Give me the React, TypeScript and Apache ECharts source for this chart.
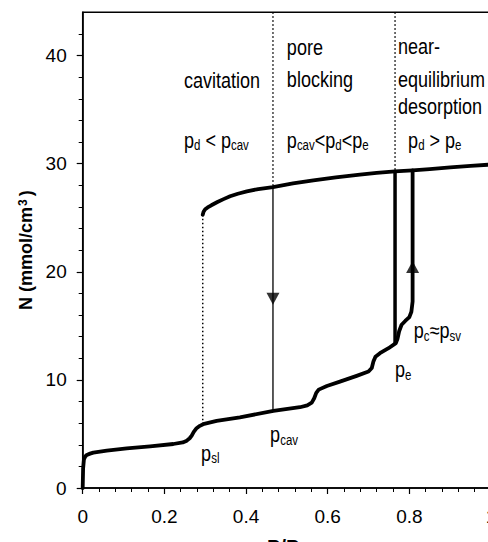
import React, { useEffect, useRef } from "react";
import * as echarts from "echarts";

// Adsorption branch (lower curve, then the condensation step at p_c ≈ p_sv)
const adsorptionBranch: [number, number][] = [
  [0, 0], [0.001, 1.8], [0.003, 2.65], [0.006, 2.9], [0.01, 3.06], [0.018, 3.18],
  [0.026, 3.27], [0.059, 3.46], [0.108, 3.67], [0.165, 3.85], [0.222, 4.07],
  [0.245, 4.22], [0.255, 4.38], [0.262, 4.6], [0.267, 4.85], [0.272, 5.2],
  [0.278, 5.5], [0.287, 5.75], [0.295, 5.9], [0.328, 6.2], [0.385, 6.54],
  [0.467, 7.13], [0.532, 7.47], [0.55, 7.65], [0.561, 7.9], [0.567, 8.3],
  [0.572, 8.8], [0.578, 9.1], [0.598, 9.44], [0.63, 9.84], [0.671, 10.37],
  [0.7, 10.77], [0.708, 11.1], [0.712, 11.7], [0.717, 12.15], [0.728, 12.47],
  [0.749, 12.93], [0.767, 13.4], [0.771, 13.8], [0.775, 14.5], [0.781, 15.1],
  [0.79, 15.45], [0.8, 15.8], [0.805, 16.3], [0.808, 17.25], [0.808, 29.38],
];

// Upper (filled-pore) branch
const upperBranch: [number, number][] = [
  [0.294, 25.28], [0.296, 25.55], [0.3, 25.78], [0.306, 25.95], [0.315, 26.15],
  [0.33, 26.45], [0.345, 26.72], [0.361, 26.98], [0.38, 27.22], [0.402, 27.44],
  [0.43, 27.65], [0.466, 27.84], [0.515, 28.17], [0.565, 28.46], [0.62, 28.73],
  [0.679, 28.98], [0.72, 29.14], [0.765, 29.29], [0.808, 29.38], [0.85, 29.5],
  [0.9, 29.65], [0.95, 29.79], [1.0, 29.92],
];

const equilibriumDrop: [number, number][] = [[0.765, 29.29], [0.765, 13.4]];
const poreBlockingDrop: [number, number][] = [[0.466, 27.84], [0.466, 7.13]];
const cavitationGuide: [number, number][] = [[0.294, 25.28], [0.294, 5.9]];
const blockingBoundary: [number, number][] = [[0.466, 44], [0.466, 27.84]];
const equilibriumBoundary: [number, number][] = [[0.765, 44], [0.765, 29.29]];

const downArrow: [number, number][] = [[0.466, 17.5]];
const upArrow: [number, number][] = [[0.808, 20.45]];

const xTickLabels = [0, 0.2, 0.4, 0.6, 0.8, 1];
const yMajorTicks = [0, 10, 20, 30, 40];
const yMinorTicks = [2, 4, 6, 8, 12, 14, 16, 18, 22, 24, 26, 28, 32, 34, 36, 38, 42];

// Annotation texts and their anchor (left edge, baseline) in data units
const annotationTexts = [
  "{p|cavitation}",
  "{p|pore}",
  "{p|blocking}",
  "{p|near-}",
  "{p|equilibrium}",
  "{p|desorption}",
  "{p|p}{s|d}{p| < p}{s|cav}",
  "{p|p}{s|cav}{p|<p}{s|d}{p|<p}{s|e}",
  "{p|p}{s|d}{p| > p}{s|e}",
  "{p|p}{s|sl}",
  "{p|p}{s|cav}",
  "{p|p}{s|e}",
  "{p|p}{s|c}{p|≈p}{s|sv}",
];
const annotationAnchors: [number, number][] = [
  [0.248, 37.0],
  [0.5, 40.0],
  [0.5, 37.1],
  [0.772, 40.15],
  [0.772, 37.1],
  [0.772, 34.6],
  [0.248, 31.45],
  [0.5, 31.45],
  [0.797, 31.45],
  [0.29, 2.5],
  [0.459, 4.2],
  [0.765, 10.2],
  [0.811, 13.8],
];

const SANS = "'Liberation Sans', Arial, Helvetica, sans-serif";

export default function App() {
  const ref = useRef<HTMLDivElement>(null);

  useEffect(() => {
    document.body.style.margin = "0";
    const chart = echarts.init(ref.current!, null, { renderer: "svg" });
    const black = "#000";
    const thick = { color: black, width: 3.8, cap: "round", join: "round" };
    const dotted = { color: black, width: 1.5, type: [1.5, 2.5] };

    chart.setOption({
      animation: false,
      backgroundColor: "#fff",
      grid: {
        left: 82.7,
        right: -3,
        top: 12.3,
        bottom: 54,
        show: true,
        borderColor: black,
        borderWidth: 1.5,
        outerBoundsMode: "none",
        containLabel: false,
      },
      xAxis: {
        type: "value",
        min: 0,
        max: 1,
        interval: 0.2,
        axisLine: { show: true, lineStyle: { color: black, width: 1.5 } },
        axisTick: { show: true, length: 6, lineStyle: { color: black, width: 1.2 } },
        minorTick: { show: true, splitNumber: 5, length: 4, lineStyle: { color: black, width: 1 } },
        splitLine: { show: false },
        minorSplitLine: { show: false },
        axisLabel: {
          color: black,
          fontSize: 19,
          fontFamily: SANS,
          margin: 19,
          customValues: xTickLabels,
        },
        name: "{a|P/P}{s|0}",
        nameLocation: "middle",
        nameGap: 48,
        nameTextStyle: {
          color: black,
          rich: {
            a: { fontSize: 20, fontWeight: "bold", fontFamily: SANS, color: black, lineHeight: 22 },
            s: { fontSize: 13, fontWeight: "bold", fontFamily: SANS, color: black, verticalAlign: "bottom", lineHeight: 12 },
          },
        },
      },
      yAxis: [
        {
          type: "value",
          min: 0,
          max: 44,
          interval: 10,
          axisLine: { show: true, lineStyle: { color: black, width: 1.5 } },
          axisTick: { show: true, length: 6, customValues: yMajorTicks, lineStyle: { color: black, width: 1.2 } },
          splitLine: { show: false },
          axisLabel: {
            color: black,
            fontSize: 19,
            fontFamily: SANS,
            margin: 16,
            customValues: yMajorTicks,
          },
          name: "N (mmol/cm{s|3})",
          nameLocation: "middle",
          nameGap: 45,
          nameTextStyle: {
            color: black,
            fontSize: 18,
            fontWeight: "bold",
            fontFamily: SANS,
            rich: {
              s: { fontSize: 12, fontWeight: "bold", fontFamily: SANS, color: black, verticalAlign: "top", lineHeight: 12, padding: [0, 3, 0, 1] },
            },
          },
        },
        {
          type: "value",
          min: 0,
          max: 44,
          interval: 2,
          position: "left",
          axisLine: { show: false },
          axisTick: { show: true, length: 4, customValues: yMinorTicks, lineStyle: { color: black, width: 1 } },
          axisLabel: { show: false },
          splitLine: { show: false },
        },
      ],
      series: [
        { type: "line", data: adsorptionBranch, showSymbol: false, lineStyle: thick, silent: true },
        { type: "line", data: upperBranch, showSymbol: false, lineStyle: thick, silent: true },
        { type: "line", data: equilibriumDrop, showSymbol: false, lineStyle: { color: black, width: 3.5 }, silent: true },
        { type: "line", data: poreBlockingDrop, showSymbol: false, lineStyle: { color: black, width: 1.3 }, silent: true },
        { type: "line", data: cavitationGuide, showSymbol: false, lineStyle: dotted, silent: true },
        { type: "line", data: blockingBoundary, showSymbol: false, lineStyle: dotted, silent: true },
        { type: "line", data: equilibriumBoundary, showSymbol: false, lineStyle: dotted, silent: true },
        {
          type: "scatter",
          data: downArrow,
          symbol: "triangle",
          symbolSize: [13, 12],
          symbolRotate: 180,
          itemStyle: { color: black },
          silent: true,
        },
        {
          type: "scatter",
          data: upArrow,
          symbol: "triangle",
          symbolSize: [13, 12],
          itemStyle: { color: black },
          silent: true,
        },
      ],
    });

    const rich = {
      p: { fontSize: 22, fontFamily: SANS, fill: black, color: black, lineHeight: 24 },
      s: { fontSize: 14, fontFamily: SANS, fill: black, color: black, lineHeight: 14, verticalAlign: "bottom" },
    };
    const graphics = annotationTexts.map((text, i) => {
      const pt = chart.convertToPixel({ seriesIndex: 0 }, annotationAnchors[i]) as number[];
      return {
        type: "text",
        x: pt[0],
        y: pt[1] + 4,
        scaleX: 0.82,
        silent: true,
        style: {
          text,
          rich,
          fill: black,
          fontSize: 22,
          fontFamily: SANS,
          align: "left",
          verticalAlign: "bottom",
        },
      };
    });
    chart.setOption({ graphic: graphics });

    return () => chart.dispose();
  }, []);

  return (
    <div
      ref={ref}
      style={{ position: "absolute", left: 0, top: 0, width: 488, height: 542 }}
    />
  );
}
